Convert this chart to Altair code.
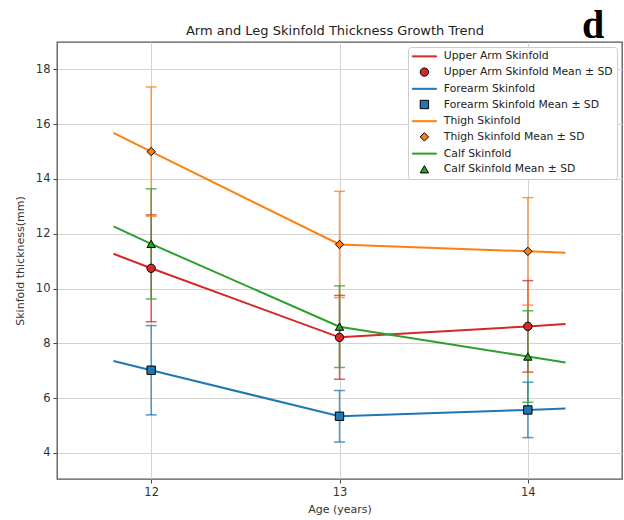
import altair as alt
import pandas as pd

# ---- data ----
series = ["Upper Arm Skinfold", "Forearm Skinfold", "Thigh Skinfold", "Calf Skinfold"]
colors = ["#d62728", "#1f77b4", "#ff7f0e", "#2ca02c"]
shapes = ["circle", "square", "diamond", "triangle-up"]

ages = [12, 13, 14]
upper_arm_mean = [10.74, 8.22, 8.62]
upper_arm_sd = [1.95, 1.53, 1.67]
forearm_mean = [7.02, 5.34, 5.57]
forearm_sd = [1.63, 0.94, 1.01]
thigh_mean = [15.00, 11.61, 11.36]
thigh_sd = [2.36, 1.94, 1.96]
calf_mean = [11.63, 8.61, 7.52]
calf_sd = [2.01, 1.49, 1.67]

trend_x = [11.8, 12, 13, 14, 14.2]
upper_arm_trend = [11.27, 10.74, 8.22, 8.62, 8.71]
forearm_trend = [7.36, 7.02, 5.34, 5.57, 5.62]
thigh_trend = [15.68, 15.00, 11.61, 11.36, 11.31]
calf_trend = [12.27, 11.63, 8.61, 7.52, 7.30]

y_ticks = [4, 6, 8, 10, 12, 14, 16, 18]
x_ticks = [12, 13, 14]

title_text = ["Arm and Leg Skinfold Thickness Growth Trend"]
panel_tag = ["d"]

means = [upper_arm_mean, forearm_mean, thigh_mean, calf_mean]
sds = [upper_arm_sd, forearm_sd, thigh_sd, calf_sd]
trends = [upper_arm_trend, forearm_trend, thigh_trend, calf_trend]

# ---- tables ----
trend_rows = []
for s, tr in zip(series, trends):
    for x, y in zip(trend_x, tr):
        trend_rows.append({"series": s, "x": x, "y": y})
trend_df = pd.DataFrame(trend_rows)

mean_rows = []
for s, m, sd in zip(series, means, sds):
    for a, mv, sv in zip(ages, m, sd):
        mean_rows.append({"series": s, "entry": s + " Mean ± SD", "age": a,
                          "mean": mv, "lo": mv - sv, "hi": mv + sv})
mean_df = pd.DataFrame(mean_rows)

# legend line glyph: a thin horizontal bar (custom symbol path, unit coords)
LINE_GLYPH = "M-2.9,-0.12L2.9,-0.12L2.9,0.12L-2.9,0.12Z"

entries = []
entry_fill = []
entry_stroke = []
entry_shape = []
for s, c, sh in zip(series, colors, shapes):
    entries += [s, s + " Mean ± SD"]
    entry_fill += [c, c]
    entry_stroke += [c, "black"]
    entry_shape += [LINE_GLYPH, sh]

FONT = "DejaVu Sans"
xscale = alt.Scale(domain=[11.5, 14.5], nice=False, zero=False)
yscale = alt.Scale(domain=[3.05, 19.0], nice=False, zero=False)
xaxis = alt.Axis(values=x_ticks, format="d", title="Age (years)", grid=True)
yaxis = alt.Axis(values=y_ticks, format="d", title="Skinfold thickness(mm)", grid=True)
ser_color = alt.Color("series:N", scale=alt.Scale(domain=series, range=colors), legend=None)

legend_def = alt.Legend(title=None, labelLimit=260)

lines = alt.Chart(trend_df).mark_line(strokeWidth=2, clip=True).encode(
    x=alt.X("x:Q", scale=xscale, axis=xaxis),
    y=alt.Y("y:Q", scale=yscale, axis=yaxis),
    color=ser_color,
    detail="series:N",
)

bars = alt.Chart(mean_df).mark_rule(strokeWidth=1.5, opacity=0.75).encode(
    x=alt.X("age:Q", scale=xscale, axis=xaxis),
    y=alt.Y("lo:Q", scale=yscale, axis=yaxis),
    y2="hi:Q",
    color=ser_color,
)

caps = alt.Chart(mean_df).transform_fold(["lo", "hi"], as_=["end", "val"]).mark_tick(
    orient="horizontal", size=11, thickness=1.5, opacity=0.75
).encode(
    x=alt.X("age:Q", scale=xscale, axis=xaxis),
    y=alt.Y("val:Q", scale=yscale, axis=yaxis),
    color=ser_color,
)

points = alt.Chart(mean_df).mark_point(filled=True, opacity=1, size=70, strokeWidth=1).encode(
    x=alt.X("age:Q", scale=xscale, axis=xaxis),
    y=alt.Y("mean:Q", scale=yscale, axis=yaxis),
    fill=alt.Fill("entry:N", scale=alt.Scale(domain=entries, range=entry_fill), legend=legend_def),
    stroke=alt.Stroke("entry:N", scale=alt.Scale(domain=entries, range=entry_stroke), legend=legend_def),
    shape=alt.Shape("entry:N", scale=alt.Scale(domain=entries, range=entry_shape), legend=legend_def),
)

title = alt.Chart(pd.DataFrame({"t": title_text})).mark_text(
    font=FONT, fontSize=13, color="#222", align="center", baseline="alphabetic", clip=False
).encode(text="t:N", x=alt.value(278), y=alt.value(-7))

tag = alt.Chart(pd.DataFrame({"t": panel_tag})).mark_text(
    font="Liberation Serif", fontWeight="bold", fontSize=40, color="black",
    align="center", baseline="alphabetic", clip=False
).encode(text="t:N", x=alt.value(536), y=alt.value(-4))

chart = alt.layer(lines, bars, caps, points, title, tag).properties(
    width=565, height=437,
    autosize=alt.AutoSizeParams(type="none"),
    padding={"left": 57, "top": 42, "right": 2, "bottom": 41},
).configure_view(
    stroke="#555", strokeWidth=1.3
).configure_axis(
    labelFont=FONT, titleFont=FONT, labelFontSize=11.5, titleFontSize=11,
    labelColor="#333", titleColor="#333", titleFontWeight="normal",
    gridColor="#d3d3d3", gridWidth=1, domain=False,
    tickColor="#444", tickSize=4, labelPadding=3,
).configure_axisY(titlePadding=10).configure_axisX(titlePadding=6).configure_legend(
    orient="top-right", offset=5, labelFont=FONT, labelFontSize=10.8, labelColor="#222",
    fillColor="white", strokeColor="#cccccc", padding=4, cornerRadius=3,
    rowPadding=3.7, labelOffset=14, symbolOffset=7, symbolOpacity=1,
    symbolSize=70, symbolStrokeWidth=1,
)

chart.save("out.html", embed_options={"renderer": "svg", "actions": False})
